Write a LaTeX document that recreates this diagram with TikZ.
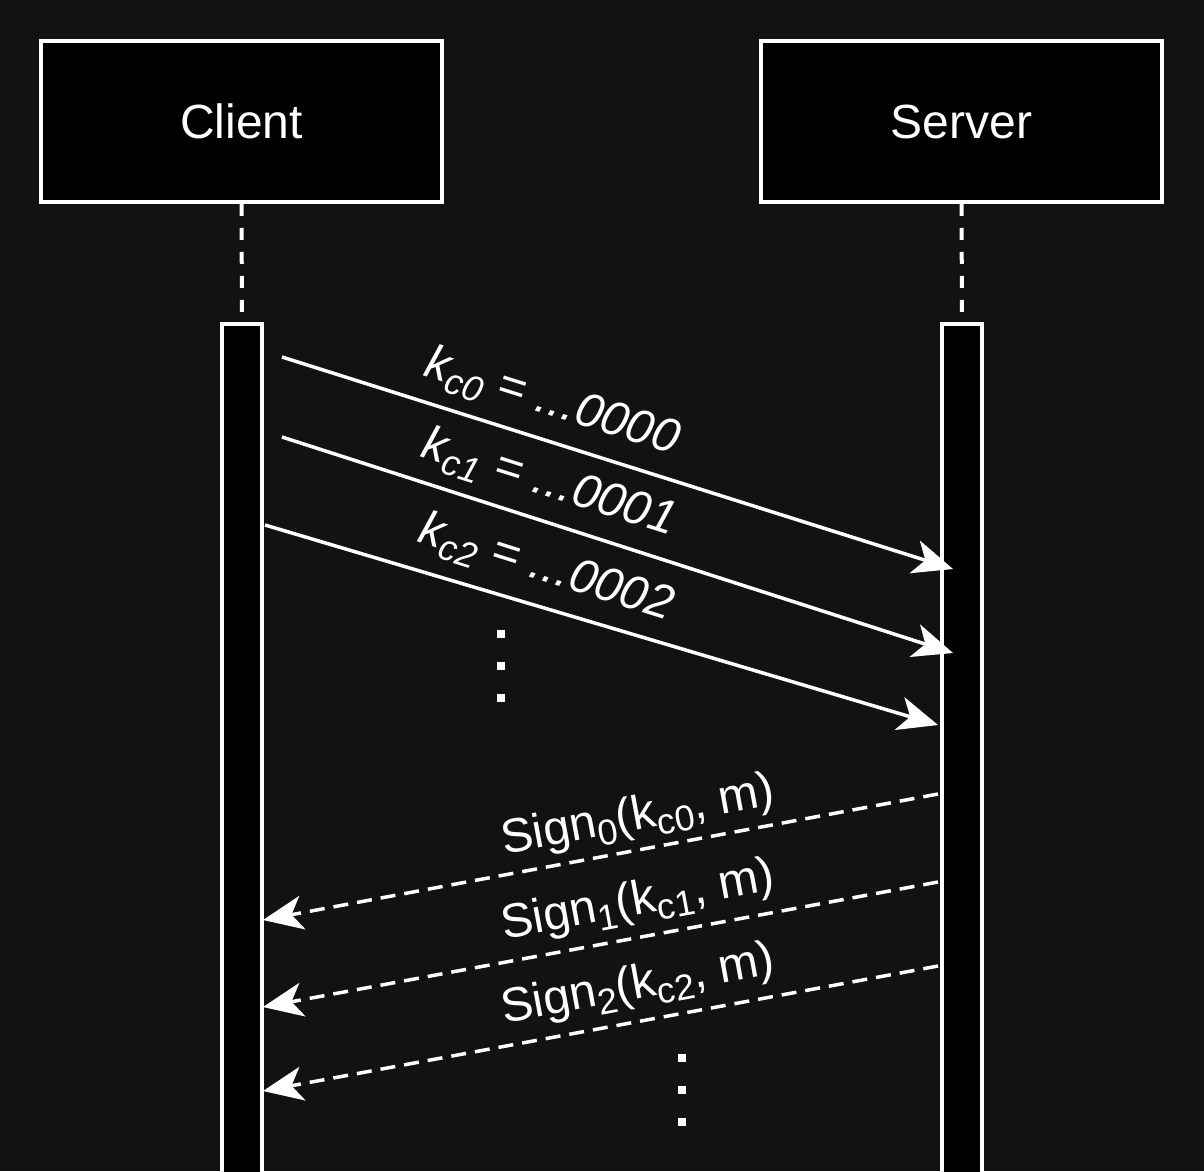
\documentclass[tikz,border=0pt]{standalone}
\usepackage{fontspec}
\setmainfont{Liberation Sans}
\usetikzlibrary{arrows.meta}
\definecolor{bgc}{HTML}{121212}
\newcommand{\sbs}[1]{\raisebox{-0.2em}{\fontsize{36pt}{36pt}\selectfont #1}}
\begin{document}
\begin{tikzpicture}[x=1pt,y=-1pt,
  actor/.style={draw=white,line width=3.5pt,fill=black,minimum width=401pt,minimum height=161pt,inner sep=0pt,text=white,font=\fontsize{48pt}{48pt}\selectfont},
  bar/.style={draw=white,line width=3.5pt,fill=black,minimum width=40pt,inner sep=0pt},
  life/.style={white,line width=4pt,dash pattern=on 12pt off 12pt},
  msg/.style={white,line width=3.5pt,-{Stealth[length=40pt,width=34pt,inset=11pt]}},
  reply/.style={msg,dash pattern=on 15pt off 9pt},
  lbl/.style={text=white,inner sep=0pt,font=\fontsize{48pt}{52pt}\selectfont},
  vdots/.style={white,line width=8pt,dash pattern=on 8pt off 24pt}]
\fill[bgc] (0,0) rectangle (1204,1171);
\useasboundingbox (0,0) rectangle (1204,1171);
% actors
\node[actor] (client) at (241.5,121.5) {Client};
\node[actor] (server) at (961.5,121.5) {Server};
% activation bars
\node[bar,minimum height=870pt,anchor=north] (cbar) at (242,322) {};
\node[bar,minimum height=870pt,anchor=north] (sbar) at (962,322) {};
% lifelines
\draw[life] (client.south) -- (cbar.north);
\draw[life] (server.south) -- (sbar.north);
% message endpoints
\coordinate (a1s) at (282,357); \coordinate (a1e) at (953,569);
\coordinate (a2s) at (282,437); \coordinate (a2e) at (953,653);
\coordinate (a3s) at (265,525); \coordinate (a3e) at (938,725);
\coordinate (r1s) at (938,794); \coordinate (r1e) at (263,920);
\coordinate (r2s) at (938,882); \coordinate (r2e) at (263,1007);
\coordinate (r3s) at (938,966); \coordinate (r3e) at (263,1091);
\draw[msg] (a1s) -- (a1e);
\draw[msg] (a2s) -- (a2e);
\draw[msg] (a3s) -- (a3e);
\draw[reply] (r1s) -- (r1e);
\draw[reply] (r2s) -- (r2e);
\draw[reply] (r3s) -- (r3e);
% labels
\node[lbl,rotate=-17.5] (l1) at (552,403) {\itshape k\sbs{c0} = ...0000};
\node[lbl,rotate=-17.5] (l2) at (549,484) {\itshape k\sbs{c1} = ...0001};
\node[lbl,rotate=-17.5] (l3) at (546,569) {\itshape k\sbs{c2} = ...0002};
\node[lbl,rotate=10.5] (s1) at (638,817) {Sign\sbs{0}(k\sbs{c0}, m)};
\node[lbl,rotate=10.5] (s2) at (638,902) {Sign\sbs{1}(k\sbs{c1}, m)};
\node[lbl,rotate=10.5] (s3) at (638,986) {Sign\sbs{2}(k\sbs{c2}, m)};
% vertical dots
\coordinate (d1a) at (501,630); \coordinate (d1b) at (501,705);
\coordinate (d2a) at (682,1054); \coordinate (d2b) at (682,1130);
\draw[vdots] (d1a) -- (d1b);
\draw[vdots] (d2a) -- (d2b);
\end{tikzpicture}
\end{document}
